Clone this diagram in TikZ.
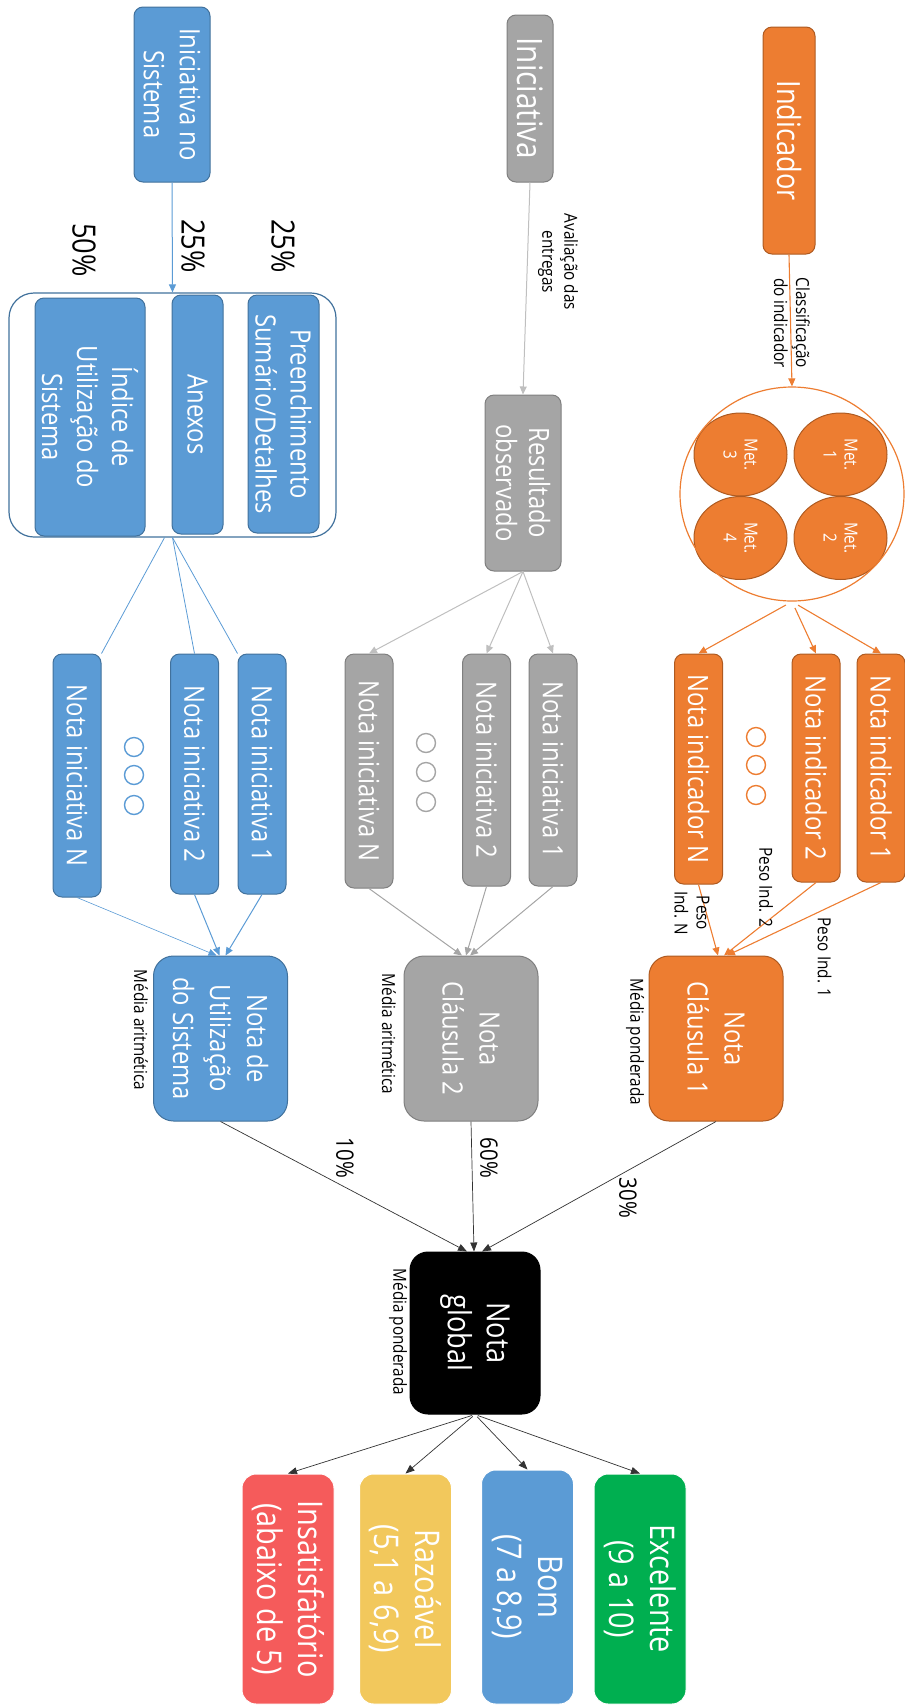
\documentclass[tikz,border=0pt]{standalone}
\usepackage{fontspec}
\setmainfont[FakeStretch=0.85]{Open Sans}
\usetikzlibrary{arrows.meta}
\usetikzlibrary{shapes}

\definecolor{orfill}{HTML}{ED7D31}
\definecolor{orline}{HTML}{AE5A21}
\definecolor{gyfill}{HTML}{A5A5A5}
\definecolor{gyline}{HTML}{7F7F7F}
\definecolor{gylight}{HTML}{BFBFBF}
\definecolor{blfill}{HTML}{5B9BD5}
\definecolor{blline}{HTML}{41719C}
\definecolor{rdfill}{HTML}{F55B5B}
\definecolor{ylfill}{HTML}{F2C85C}
\definecolor{gnfill}{HTML}{00AF50}

\newcommand{\setfs}[2]{\fontsize{#1}{#2}\selectfont}

\begin{document}
\begin{tikzpicture}[x=1pt,y=-1pt,
    box/.style={rectangle,rounded corners=9pt,draw,line width=1pt,inner sep=0pt,rotate=-90,align=center,text=white},
    orbox/.style={box,fill=orfill,draw=orline},
    gybox/.style={box,fill=gyfill,draw=gyline},
    blbox/.style={box,fill=blfill,draw=blline},
    bigbox/.style={rounded corners=20pt,minimum width=165pt,minimum height=134pt,font=\setfs{28}{37}},
    notabox/.style={minimum height=48pt,font=\setfs{28}{34}},
    classbox/.style={box,draw=white,rounded corners=14pt,minimum width=230pt,minimum height=92pt,font=\setfs{34}{41}},
    note/.style={inner sep=0pt,rotate=-90,align=center,font=\setfs{18}{22}},
    pct/.style={inner sep=0pt,rotate=-90},
    dot/.style={circle,draw,line width=1.4pt,minimum size=19pt,inner sep=0pt},
    met/.style={ellipse,draw=orline,fill=orfill,line width=1pt,rotate=-90,minimum width=83pt,minimum height=93pt,inner sep=0pt,align=center,text=white,font=\setfs{18}{21}},
    orarrow/.style={draw=orfill,line width=1.1pt,-{Triangle[length=8pt,width=7pt]}},
    gyarrow/.style={draw=gyfill,line width=1pt,-{Triangle[length=8pt,width=7pt]}},
    blarrow/.style={draw=blfill,line width=1pt,-{Triangle[length=8pt,width=7pt]}},
    blline/.style={draw=blfill,line width=0.8pt},
    bkarrow/.style={draw=black!80,line width=0.7pt,-{Triangle[length=9pt,width=7pt]}}]
    \useasboundingbox (0,0) rectangle (905,1706);

    % Indicador
    \node[orbox,minimum width=227pt,minimum height=52pt,font=\setfs{32}{38}] (ind) at (789,140.5) {Indicador};
    \node[met] (m1) at (840.5,454.5) {Met.\\1};
    \node[met] (m2) at (840.5,538) {Met.\\2};
    \node[met] (m3) at (740.5,454.5) {Met.\\3};
    \node[met] (m4) at (740.5,538) {Met.\\4};
    \node[ellipse,draw=orfill,line width=1.2pt,minimum width=224pt,minimum height=214pt] (mets) at (792,494) {};
    \draw[orarrow] (ind.east) -- (mets.north);
    \node[note] (cls) at (792,323) {Classificação\\do indicador};
    \node[orbox,notabox,minimum width=228pt] (ni1) at (881,768) {Nota indicador 1};
    \node[orbox,notabox,minimum width=228pt] (ni2) at (816,768) {Nota indicador 2};
    \node[orbox,notabox,minimum width=230pt] (niN) at (698.5,769) {Nota indicador N};
    \foreach \y [count=\i] in {737,765,795}
        \node[dot,draw=orfill] (od\i) at (756,\y) {};
    \draw[orarrow,shorten <=7pt] (mets.south) -- (ni1.west);
    \draw[orarrow,shorten <=7pt] (mets.south) -- (ni2.west);
    \draw[orarrow,shorten <=7pt] (mets.south) -- (niN.west);
    \node[orbox,bigbox] (cl1) at (716,1038.5) {Nota\\Cláusula 1};
    \draw[orarrow] (ni1.east) -- ([xshift=11pt]cl1.west);
    \draw[orarrow] (ni2.east) -- ([xshift=8pt]cl1.west);
    \draw[orarrow] (niN.east) -- ([xshift=2pt]cl1.west);
    \node[note] (pw1) at (824.5,957.5) {Peso Ind. 1};
    \node[note] (pw2) at (766,887) {Peso Ind. 2};
    \node[note] (pwN) at (692,913) {Peso\\Ind. N};
    \node[note] (mp1) at (635,1042) {Média ponderada};

    % Iniciativa
    \node[gybox,minimum width=167pt,minimum height=46pt,font=\setfs{35}{40}] (ini) at (530,98.5) {Iniciativa};
    \node[gybox,minimum width=176pt,minimum height=76pt,font=\setfs{28}{33}] (res) at (523,483) {Resultado\\observado};
    \draw[draw=gylight,line width=1pt,-{Triangle[length=8pt,width=7pt]}] (ini.east) -- (res.west);
    \node[note] (aval) at (558,262) {Avaliação das\\entregas};
    \node[gybox,notabox,minimum width=232pt] (gi1) at (553,770) {Nota iniciativa 1};
    \node[gybox,notabox,minimum width=232pt] (gi2) at (486.5,770) {Nota iniciativa 2};
    \node[gybox,notabox,minimum width=234pt] (giN) at (369,771) {Nota iniciativa N};
    \foreach \y [count=\i] in {743,772,802}
        \node[dot,draw=gyfill] (gd\i) at (426,\y) {};
    \draw[gyarrow,draw=gylight] (res.east) -- (gi1.west);
    \draw[gyarrow,draw=gylight] (res.east) -- (gi2.west);
    \draw[gyarrow,draw=gylight] (res.east) -- (giN.west);
    \node[gybox,bigbox] (cl2) at (471,1038.5) {Nota\\Cláusula 2};
    \draw[gyarrow] (gi1.east) -- ([xshift=-1pt]cl2.west);
    \draw[gyarrow] (gi2.east) -- ([xshift=-5pt]cl2.west);
    \draw[gyarrow] (giN.east) -- ([xshift=-9pt]cl2.west);
    \node[note] (ma2) at (389,1034) {Média aritmética};

    % Iniciativa no Sistema
    \node[blbox,minimum width=175pt,minimum height=76pt,font=\setfs{28}{36}] (ins) at (172,94.5) {Iniciativa no\\Sistema};
    \node[blbox,minimum width=238pt,minimum height=71pt,font=\setfs{28}{35}] (pre) at (283.5,414) {Preenchimento\\Sumário/Detalhes};
    \node[blbox,minimum width=239pt,minimum height=51pt,font=\setfs{28}{35}] (anx) at (197.5,414.5) {Anexos};
    \node[blbox,minimum width=238pt,minimum height=110pt,font=\setfs{28}{35}] (idx) at (90,417) {Índice de\\Utilização do\\Sistema};
    \node[draw=blline,line width=1.2pt,rounded corners=25pt,minimum width=327pt,minimum height=244pt] (sub) at (172.5,415) {};
    \draw[blarrow] (ins.east) -- (sub.north);
    \node[pct,font=\setfs{32}{36}] (p50) at (84,250) {50\%};
    \node[pct,font=\setfs{32}{36}] (p25a) at (193,246) {25\%};
    \node[pct,font=\setfs{32}{36}] (p25b) at (283,246) {25\%};
    \node[blbox,notabox,minimum width=240pt] (bi1) at (262,774) {Nota iniciativa 1};
    \node[blbox,notabox,minimum width=240pt] (bi2) at (194.5,774) {Nota iniciativa 2};
    \node[blbox,notabox,minimum width=243pt] (biN) at (77,775.5) {Nota iniciativa N};
    \foreach \y [count=\i] in {747,775,805}
        \node[dot,draw=blfill] (bd\i) at (134,\y) {};
    \draw[blline] (sub.south) -- (bi1.south west);
    \draw[blline] (sub.south) -- (bi2.west);
    \draw[blline] ([xshift=-8pt]sub.south) -- (biN.north west);
    \node[blbox,bigbox] (nus) at (220.5,1038.5) {Nota de\\Utilização\\do Sistema};
    \draw[blarrow] (bi1.east) -- ([xshift=5pt]nus.west);
    \draw[blarrow] (bi2.east) -- ([xshift=-1pt]nus.west);
    \draw[blarrow,line width=0.6pt] (biN.east) -- ([xshift=-4pt]nus.west);
    \node[note] (ma1) at (141,1030) {Média aritmética};

    % Nota global
    \node[box,fill=black,rounded corners=18pt,minimum width=162pt,minimum height=130pt,font=\setfs{32}{39}] (glob) at (475,1333) {Nota\\global};
    \draw[bkarrow] (nus.east) -- ([xshift=-8pt]glob.west);
    \draw[bkarrow] (cl2.east) -- ([xshift=-1pt]glob.west);
    \draw[bkarrow] (cl1.east) -- ([xshift=7pt]glob.west);
    \node[pct,font=\setfs{24}{28}] (w10) at (345,1158) {10\%};
    \node[pct,font=\setfs{24}{28}] (w60) at (489,1158) {60\%};
    \node[pct,font=\setfs{24}{28}] (w30) at (628,1198) {30\%};
    \node[note] (mp2) at (398,1332) {Média ponderada};

    % Classes
    \node[classbox,fill=rdfill] (cIns) at (288,1589) {Insatisfatório\\(abaixo de 5)};
    \node[classbox,fill=ylfill] (cRaz) at (405.5,1589) {Razoável\\(5,1 a 6,9)};
    \node[classbox,fill=blfill,minimum width=234pt] (cBom) at (527.5,1587) {Bom\\(7 a 8,9)};
    \node[classbox,fill=gnfill] (cExc) at (640,1589) {Excelente\\(9 a 10)};
    \draw[bkarrow,shorten <=3pt] (glob.east) -- (cIns.west);
    \draw[bkarrow,shorten <=3pt] (glob.east) -- (cRaz.west);
    \draw[bkarrow,shorten <=3pt] (glob.east) -- (cBom.west);
    \draw[bkarrow,shorten <=3pt] (glob.east) -- (cExc.west);
\end{tikzpicture}
\end{document}
